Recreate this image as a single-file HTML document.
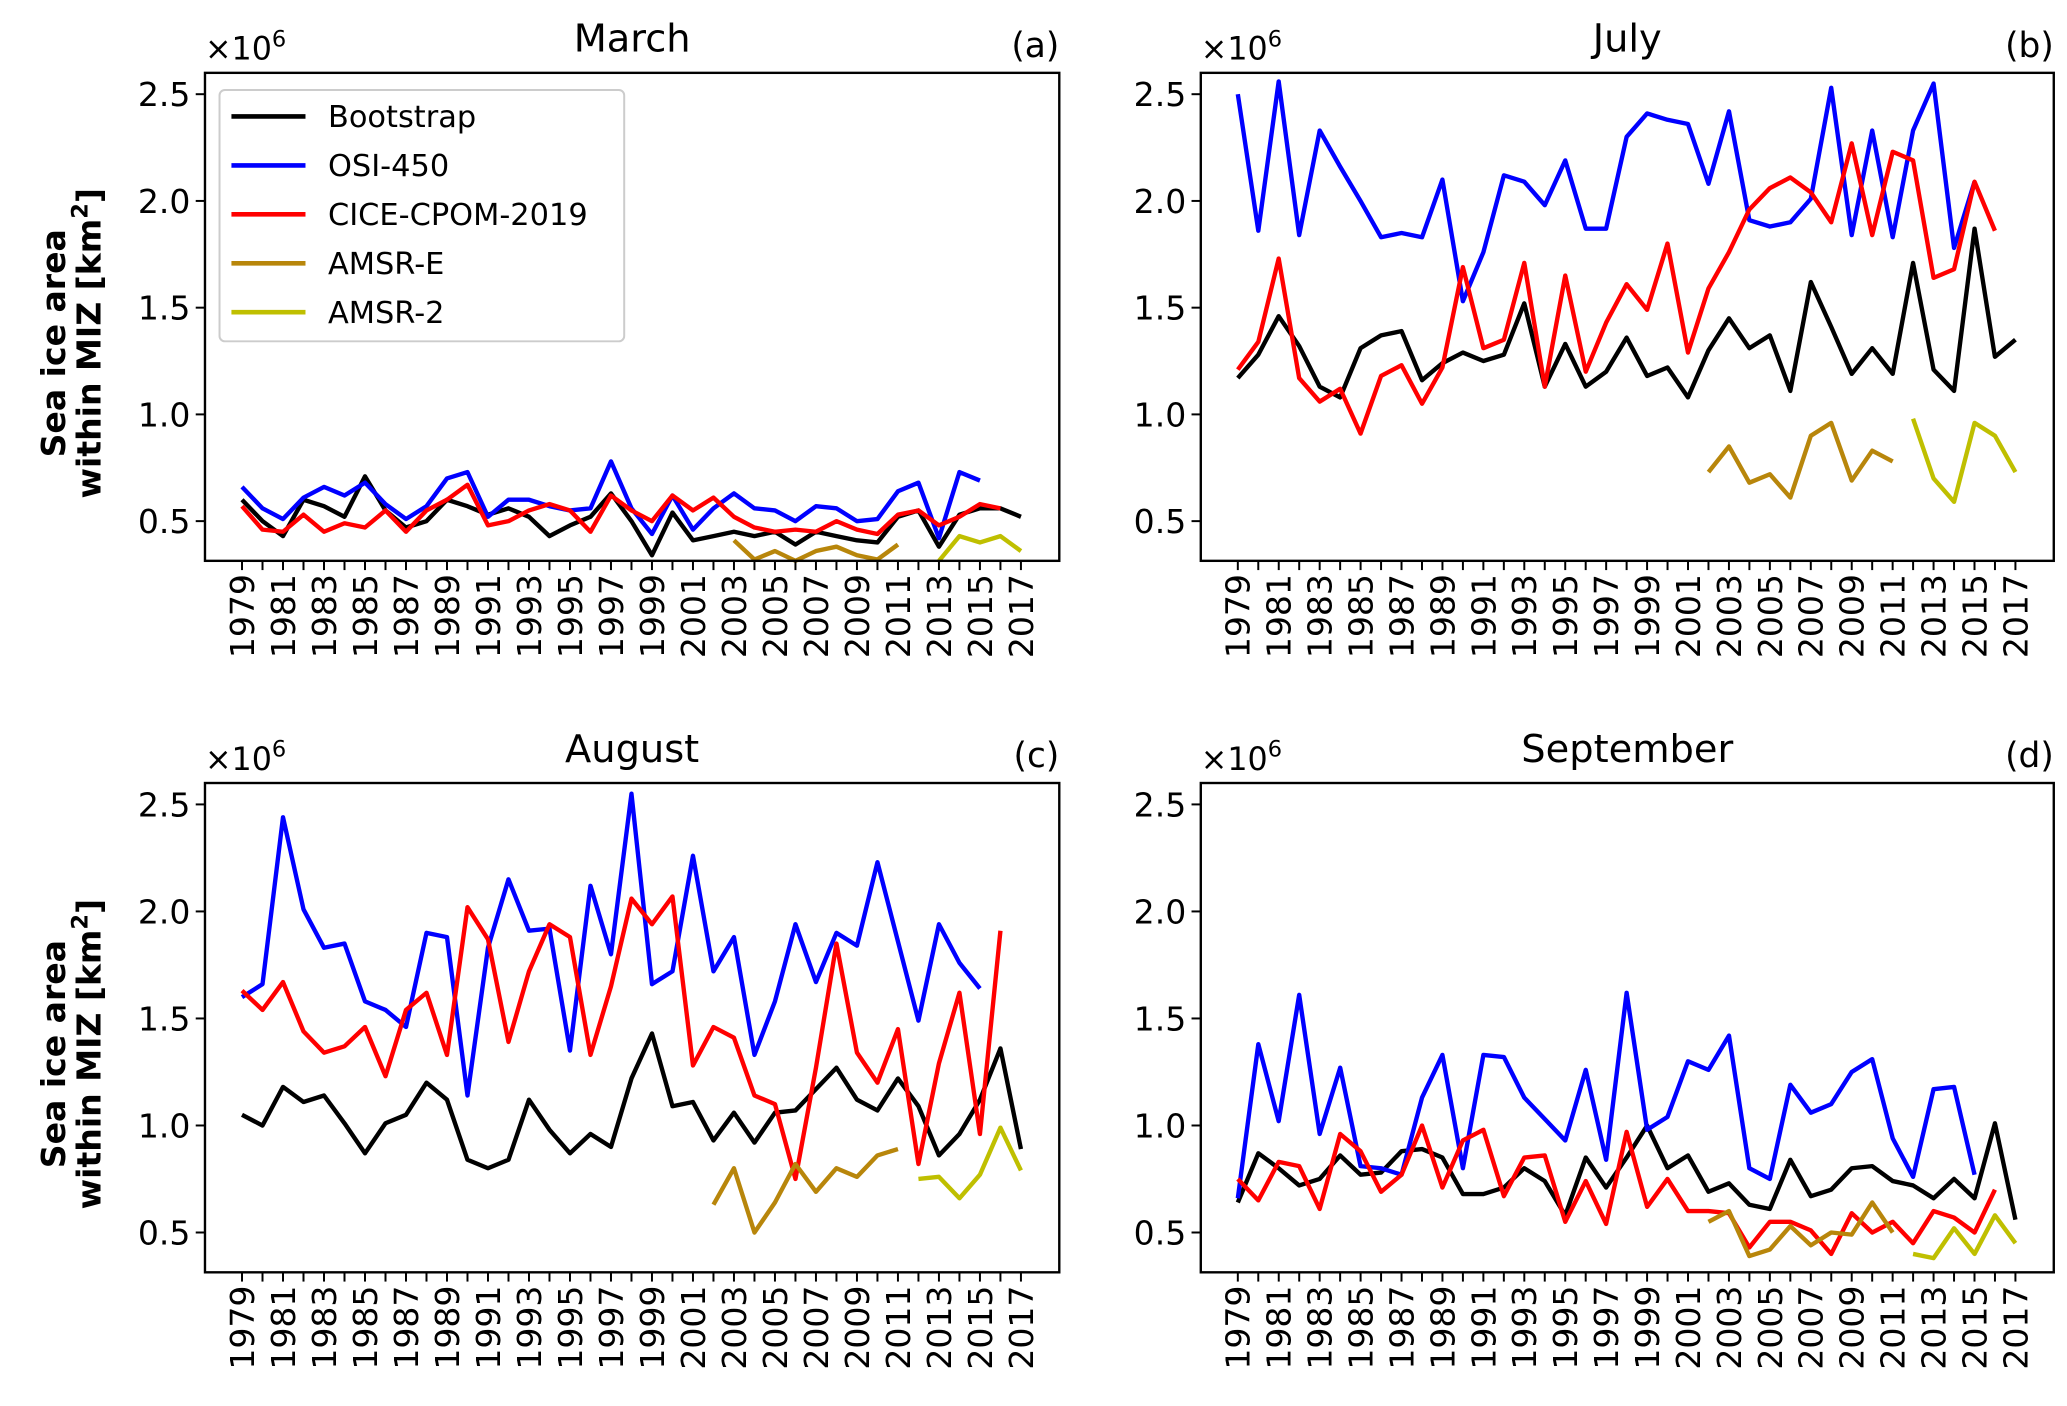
<!DOCTYPE html>
<html><head><meta charset="utf-8"><style>
html,body{margin:0;padding:0;background:#fff;}
svg{display:block;font-family:"DejaVu Sans","Liberation Sans",sans-serif;}
</style></head><body>
<svg id="fig" width="2067" height="1406" viewBox="0 0 1563 1063" xmlns="http://www.w3.org/2000/svg"></svg>
<script>
const years = []; for (let y = 1979; y <= 2017; y++) years.push(y);
const yTicks = [0.5, 1.0, 1.5, 2.0, 2.5];
const panelTitles = ["March", "July", "August", "September"];
const panelLetters = ["(a)", "(b)", "(c)", "(d)"];
const seriesNames = ["Bootstrap", "OSI-450", "CICE-CPOM-2019", "AMSR-E", "AMSR-2"];

const marBoot = [0.6,0.5,0.43,0.6,0.57,0.52,0.71,0.55,0.47,0.5,0.6,0.57,0.53,0.56,0.52,0.43,0.48,0.52,0.63,0.5,0.34,0.54,0.41,0.43,0.45,0.43,0.45,0.39,0.45,0.43,0.41,0.4,0.52,0.55,0.38,0.53,0.56,0.56,0.52];
const marOsi = [0.66,0.56,0.51,0.61,0.66,0.62,0.68,0.58,0.51,0.57,0.7,0.73,0.52,0.6,0.6,0.57,0.55,0.56,0.78,0.56,0.44,0.62,0.46,0.56,0.63,0.56,0.55,0.5,0.57,0.56,0.5,0.51,0.64,0.68,0.42,0.73,0.69];
const marCice = [0.57,0.46,0.45,0.53,0.45,0.49,0.47,0.55,0.45,0.55,0.6,0.67,0.48,0.5,0.55,0.58,0.55,0.45,0.62,0.55,0.5,0.62,0.55,0.61,0.52,0.47,0.45,0.46,0.45,0.5,0.46,0.44,0.53,0.55,0.48,0.52,0.58,0.56];
const marAmsrE = [0.41,0.32,0.36,0.3,0.36,0.38,0.34,0.32,0.39];
const marAmsr2 = [0.31,0.43,0.4,0.43,0.36];

const julBoot = [1.17,1.28,1.46,1.32,1.13,1.08,1.31,1.37,1.39,1.16,1.24,1.29,1.25,1.28,1.52,1.13,1.33,1.13,1.2,1.36,1.18,1.22,1.08,1.3,1.45,1.31,1.37,1.11,1.62,1.41,1.19,1.31,1.19,1.71,1.21,1.11,1.87,1.27,1.35];
const julOsi = [2.5,1.86,2.56,1.84,2.33,2.16,2.0,1.83,1.85,1.83,2.1,1.53,1.76,2.12,2.09,1.98,2.19,1.87,1.87,2.3,2.41,2.38,2.36,2.08,2.42,1.91,1.88,1.9,2.01,2.53,1.84,2.33,1.83,2.33,2.55,1.78,2.09];
const julCice = [1.21,1.34,1.73,1.17,1.06,1.12,0.91,1.18,1.23,1.05,1.22,1.69,1.31,1.35,1.71,1.13,1.65,1.2,1.43,1.61,1.49,1.8,1.29,1.59,1.76,1.96,2.06,2.11,2.04,1.9,2.27,1.84,2.23,2.19,1.64,1.68,2.09,1.86];
const julAmsrE = [0.73,0.85,0.68,0.72,0.61,0.9,0.96,0.69,0.83,0.78];
const julAmsr2 = [0.98,0.7,0.59,0.96,0.9,0.73];

const augBoot = [1.05,1.0,1.18,1.11,1.14,1.01,0.87,1.01,1.05,1.2,1.12,0.84,0.8,0.84,1.12,0.98,0.87,0.96,0.9,1.22,1.43,1.09,1.11,0.93,1.06,0.92,1.06,1.07,1.17,1.27,1.12,1.07,1.22,1.09,0.86,0.96,1.12,1.36,0.89];
const augOsi = [1.6,1.66,2.44,2.01,1.83,1.85,1.58,1.54,1.46,1.9,1.88,1.14,1.83,2.15,1.91,1.92,1.35,2.12,1.8,2.55,1.66,1.72,2.26,1.72,1.88,1.33,1.58,1.94,1.67,1.9,1.84,2.23,1.86,1.49,1.94,1.76,1.64];
const augCice = [1.63,1.54,1.67,1.44,1.34,1.37,1.46,1.23,1.54,1.62,1.33,2.02,1.87,1.39,1.72,1.94,1.88,1.33,1.65,2.06,1.94,2.07,1.28,1.46,1.41,1.14,1.1,0.75,1.27,1.85,1.34,1.2,1.45,0.82,1.29,1.62,0.96,1.91];
const augAmsrE = [0.63,0.8,0.5,0.64,0.82,0.69,0.8,0.76,0.86,0.89];
const augAmsr2 = [0.75,0.76,0.66,0.77,0.99,0.79];

const sepBoot = [0.64,0.87,0.8,0.72,0.75,0.86,0.77,0.78,0.88,0.89,0.85,0.68,0.68,0.71,0.8,0.74,0.58,0.85,0.71,0.85,1.0,0.8,0.86,0.69,0.73,0.63,0.61,0.84,0.67,0.7,0.8,0.81,0.74,0.72,0.66,0.75,0.66,1.01,0.56];
const sepOsi = [0.66,1.38,1.02,1.61,0.96,1.27,0.81,0.8,0.77,1.13,1.33,0.8,1.33,1.32,1.13,1.03,0.93,1.26,0.84,1.62,0.98,1.04,1.3,1.26,1.42,0.8,0.75,1.19,1.06,1.1,1.25,1.31,0.94,0.76,1.17,1.18,0.77];
const sepCice = [0.75,0.65,0.83,0.81,0.61,0.96,0.88,0.69,0.77,1.0,0.71,0.93,0.98,0.67,0.85,0.86,0.55,0.74,0.54,0.97,0.62,0.75,0.6,0.6,0.59,0.43,0.55,0.55,0.51,0.4,0.59,0.5,0.55,0.45,0.6,0.57,0.5,0.7];
const sepAmsrE = [0.55,0.6,0.39,0.42,0.53,0.44,0.5,0.49,0.64,0.5];
const sepAmsr2 = [0.4,0.38,0.52,0.4,0.58,0.45];

const amsrEStart = [2003, 2002, 2002, 2002];
const amsr2Start = [2013, 2012, 2012, 2012];

const panelData = [
  [marBoot, marOsi, marCice, marAmsrE, marAmsr2],
  [julBoot, julOsi, julCice, julAmsrE, julAmsr2],
  [augBoot, augOsi, augCice, augAmsrE, augAmsr2],
  [sepBoot, sepOsi, sepCice, sepAmsrE, sepAmsr2]
];
const colors = ["#000000", "#0000ff", "#ff0000", "#b8860b", "#bfbf00"];

const NS = "http://www.w3.org/2000/svg";
const svg = document.getElementById("fig");
function el(tag, attrs, parent) {
  const e = document.createElementNS(NS, tag);
  for (const k in attrs) e.setAttribute(k, attrs[k]);
  (parent || svg).appendChild(e);
  return e;
}
const frames = [
  {L: 155, R: 801, T: 55, B: 424},
  {L: 908, R: 1553, T: 55, B: 424},
  {L: 155, R: 801, T: 592, B: 962},
  {L: 908, R: 1553, T: 592, B: 962}
];
const yMin = 0.314, yMax = 2.6;

frames.forEach((f, p) => {
  const g = el("g", {});
  
  
  const x0 = f.L + 28, x1 = f.R - 29;
  const xs = y => x0 + (y - 1979) * (x1 - x0) / 38;
  const ys = v => f.B - (v - yMin) * (f.B - f.T) / (yMax - yMin);

  panelData[p].forEach((arr, s) => {
    const start = s < 3 ? 1979 : (s === 3 ? amsrEStart[p] : amsr2Start[p]);
    const pts = arr.map((v, i) => xs(start + i).toFixed(1) + "," + ys(Math.max(v, yMin)).toFixed(1)).join(" ");
    const pl = el("polyline", {points: pts, fill: "none", stroke: colors[s], "stroke-width": 3.3, "stroke-linejoin": "round"}, g);
    
    
  });
  const fr = el("rect", {x: f.L, y: f.T, width: f.R - f.L, height: f.B - f.T, fill: "none", stroke: "#000", "stroke-width": 1.8}, g);
  
  
  yTicks.forEach(t => {
    const yy = ys(t);
    el("line", {x1: f.L - 7, x2: f.L, y1: yy, y2: yy, stroke: "#000", "stroke-width": 1.5}, g);
    const tx = el("text", {x: f.L - 11, y: yy + 9, "text-anchor": "end", "font-size": 25}, g);
    tx.textContent = t.toFixed(1);
    
    
  });
  years.forEach(yr => {
    const xx = xs(yr);
    el("line", {x1: xx, x2: xx, y1: f.B, y2: f.B + 7, stroke: "#000", "stroke-width": 1.5}, g);
    if ((yr - 1979) % 2 === 0) {
      const tx = el("text", {x: 0, y: 0, "text-anchor": "end", "font-size": 25, transform: "translate(" + (xx + 9) + "," + (f.B + 10) + ") rotate(-90)"}, g);
      tx.textContent = yr;
      
      
    }
  });
  const ti = el("text", {x: (f.L + f.R) / 2, y: f.T - 16, "text-anchor": "middle", "font-size": 29}, g);
  ti.textContent = panelTitles[p];
  
  
  const lt = el("text", {x: f.R, y: f.T - 12, "text-anchor": "end", "font-size": 26}, g);
  lt.textContent = panelLetters[p];
  
  
  const off = el("text", {x: f.L, y: f.T - 10, "font-size": 24}, g);
  off.innerHTML = '×10<tspan dy="-10" font-size="17">6</tspan>';
  
  

  if (p % 2 === 0) {
    const cy = (f.T + f.B) / 2 + 20;
    const yl = el("text", {x: 0, y: 0, "text-anchor": "middle", "font-size": 25, "font-weight": "bold", transform: "translate(49," + cy + ") rotate(-90)"}, g);
    yl.innerHTML = '<tspan x="0" dy="0">Sea ice area</tspan><tspan x="0" dy="27">within MIZ [km<tspan dy="-10" font-size="17">2</tspan><tspan dy="10">]</tspan></tspan>';
    
    
  }
});

const lg = el("g", {});


el("rect", {x: 166, y: 68, width: 306, height: 190, rx: 4, fill: "#fff", "fill-opacity": 0.85, stroke: "#cccccc", "stroke-width": 1.5}, lg);
seriesNames.forEach((n, i) => {
  const yy = 88 + i * 37;
  const e = el("g", {}, lg);
  
  
  el("line", {x1: 175, x2: 231, y1: yy, y2: yy, stroke: colors[i], "stroke-width": 3.5}, e);
  const t = el("text", {x: 248, y: yy + 8, "font-size": 23}, e);
  t.textContent = n;
});
</script>
</body></html>
